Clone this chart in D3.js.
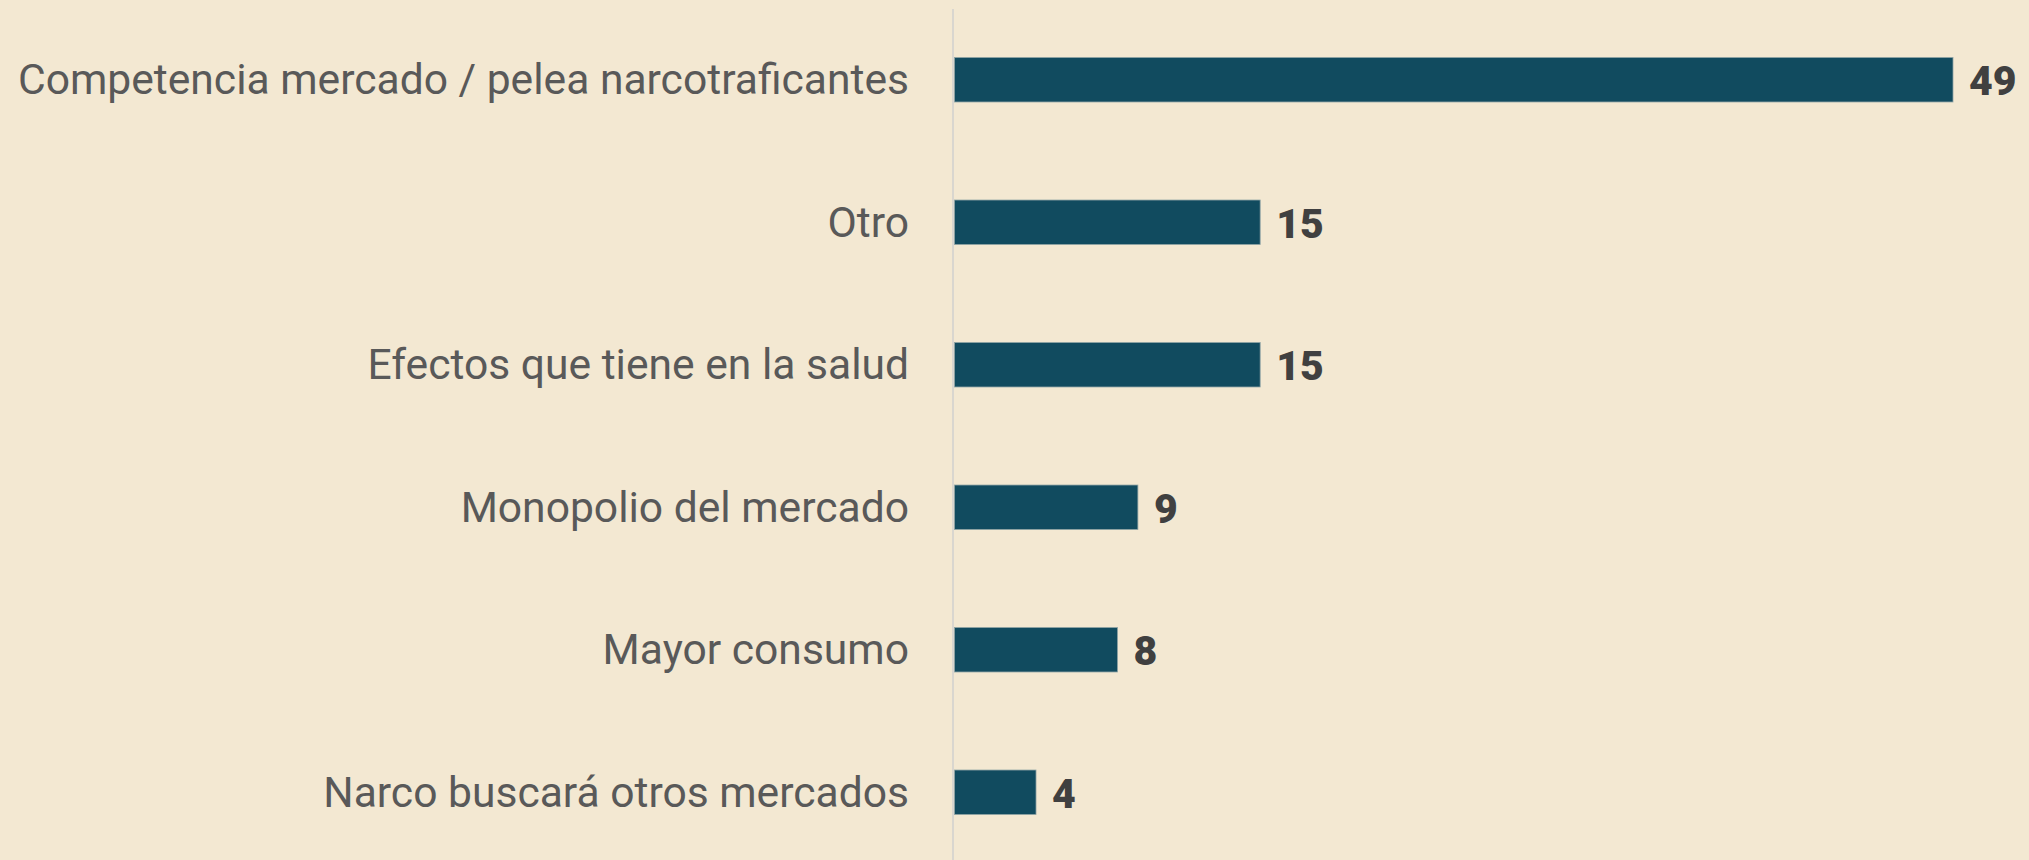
<!DOCTYPE html>
<html>
<head>
<meta charset="utf-8">
<script src="https://cdn.jsdelivr.net/npm/d3@7"></script>
<style>
  html, body { margin: 0; padding: 0; background: #f3e8d2; }
  svg { display: block; }
</style>
</head>
<body>
<div id="chart"></div>
<script>
const categories = [
  "Competencia mercado / pelea narcotraficantes",
  "Otro",
  "Efectos que tiene en la salud",
  "Monopolio del mercado",
  "Mayor consumo",
  "Narco buscará otros mercados"
];
const values = [49, 15, 15, 9, 8, 4];

const width = 2029, height = 860;
const barColor = "#114b5f";
const labelColor = "#595959";
const valueColor = "#404040";

const svg = d3.select("#chart").append("svg")
  .attr("width", width)
  .attr("height", height);

svg.append("rect")
  .attr("width", width).attr("height", height)
  .attr("fill", "#f3e8d2");

const x = d3.scaleLinear().domain([0, 49]).range([954.5, 1953]);
const y = d3.scaleBand().domain(categories).range([8.5, 863.5]).paddingInner(0.688).paddingOuter(0.344);

// axis line
svg.append("line")
  .attr("x1", 953).attr("x2", 953)
  .attr("y1", 9).attr("y2", height)
  .attr("stroke", "#d9d6cf")
  .attr("stroke-width", 2);

const data = categories.map((c, i) => ({ cat: c, val: values[i] }));

svg.selectAll(".bar")
  .data(data)
  .enter().append("rect")
  .attr("class", "bar")
  .attr("x", x(0))
  .attr("y", d => y(d.cat))
  .attr("width", d => x(d.val) - x(0))
  .attr("height", y.bandwidth())
  .attr("fill", barColor)
  .attr("stroke", "#8fa3a5")
  .attr("stroke-width", 0.8);

svg.selectAll(".label")
  .data(data)
  .enter().append("text")
  .attr("class", "label")
  .attr("x", 909)
  .attr("y", d => y(d.cat) + y.bandwidth() / 2)
  .attr("dy", "0.34em")
  .attr("text-anchor", "end")
  .attr("font-family", "Roboto, sans-serif")
  .attr("font-size", 42.6)
  .attr("fill", labelColor)
  .text(d => d.cat);

svg.selectAll(".value")
  .data(data)
  .enter().append("text")
  .attr("class", "value")
  .attr("x", d => x(d.val) + 16)
  .attr("y", d => y(d.cat) + y.bandwidth() / 2)
  .attr("dy", "0.38em")
  .attr("font-family", "Roboto, sans-serif")
  .attr("font-weight", 900)
  .attr("font-size", 41)
  .attr("fill", valueColor)
  .text(d => d.val);
</script>
</body>
</html>
